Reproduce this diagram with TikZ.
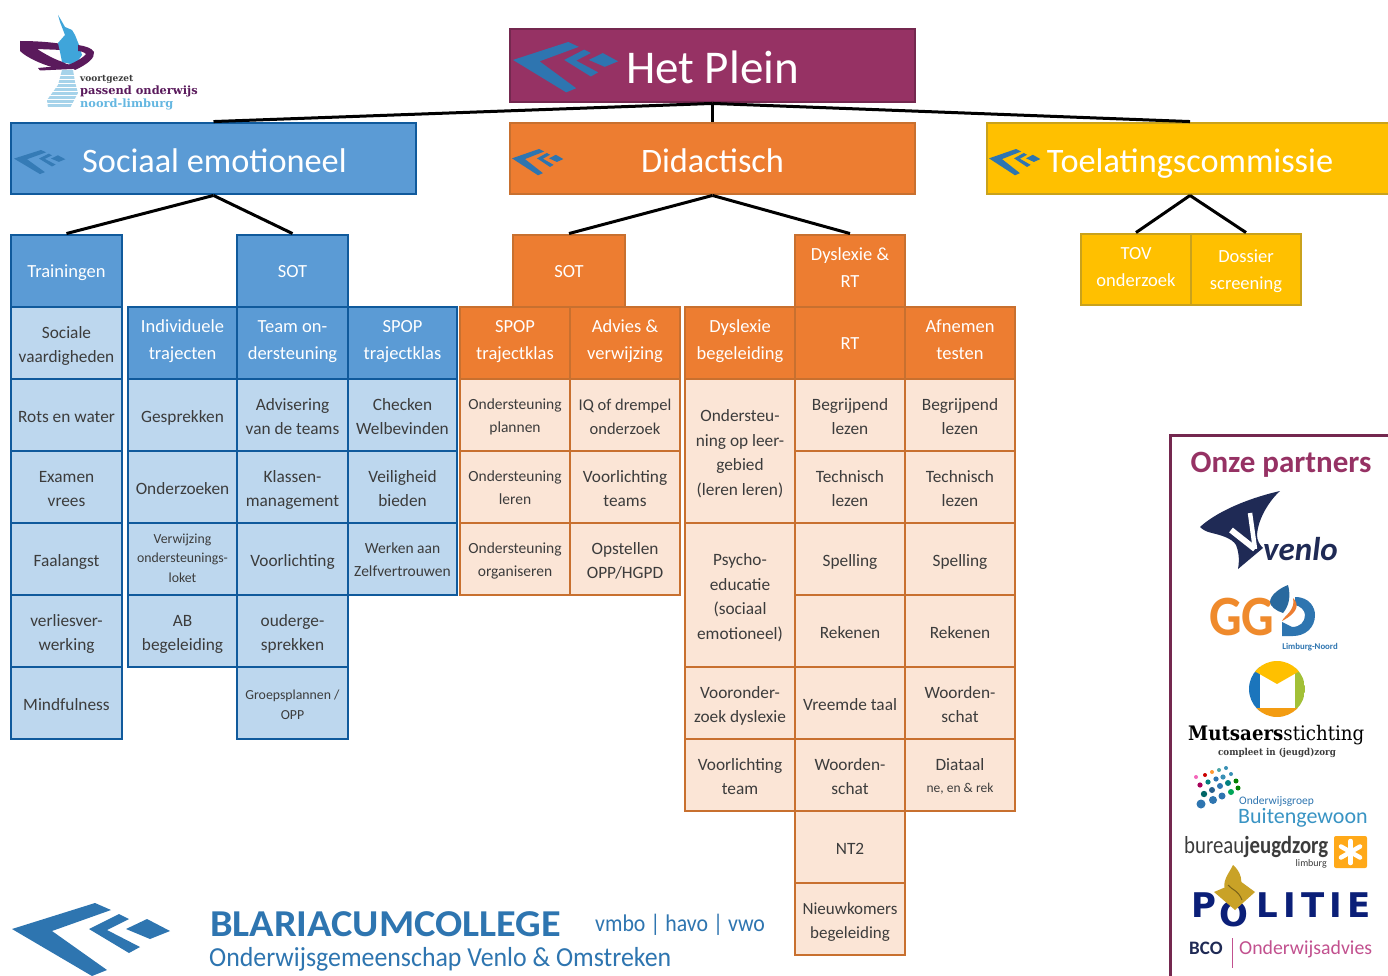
\documentclass[tikz,border=0pt]{standalone}
\usepackage{fontspec}
\setmainfont{Carlito}
\newfontfamily\slab{DejaVu Serif}
\newfontfamily\heavy{DejaVu Sans}
\newcommand\fs[2]{\fontsize{#1}{#2}\selectfont}
\newcommand\up{\rule[-14pt]{0pt}{0pt}}
\newcommand\topx{2pt}
\definecolor{bhead}{HTML}{5B9BD5}\definecolor{bline}{HTML}{105A9C}\definecolor{blight}{HTML}{BDD7EE}
\definecolor{ohead}{HTML}{ED7D31}\definecolor{oline}{HTML}{C8702F}\definecolor{olight}{HTML}{FBE5D6}
\definecolor{yhead}{HTML}{FFC000}\definecolor{yline}{HTML}{C9A21C}
\definecolor{phead}{HTML}{963264}\definecolor{pline}{HTML}{74284F}
\definecolor{txt}{HTML}{3C3C3C}\definecolor{logoblue}{HTML}{2E75B0}\definecolor{navy}{HTML}{1F2A55}
\definecolor{vpurple}{HTML}{5A1A5C}\definecolor{vblue}{HTML}{3FA5DA}\definecolor{vlight}{HTML}{A6D3EA}
\definecolor{pink}{HTML}{C2518F}\definecolor{police}{HTML}{0B1F78}\definecolor{gold}{HTML}{C9A227}
\definecolor{mgreen}{HTML}{A2C037}\definecolor{mblue}{HTML}{1B75BC}\definecolor{morange}{HTML}{F39C12}
\tikzset{
 cellbase/.style={draw,inner sep=0pt,align=center,line width=2.9pt},
 lightcell/.style={execute at begin node={\def\topx{5pt}}},
 bh/.style={cellbase,fill=bhead,draw=bline,text=white,font=\fs{18.5}{27}},
 bc/.style={cellbase,lightcell,fill=blight,draw=bline,text=txt,font=\fs{17.3}{24.5}},
 oh/.style={cellbase,fill=ohead,draw=oline,text=white,font=\fs{18.5}{27}},
 oc/.style={cellbase,lightcell,fill=olight,draw=oline,text=txt,font=\fs{17.3}{24.5}},
 yh/.style={cellbase,fill=yhead,draw=yline,text=white,font=\fs{18.5}{27}},
 small/.style={font=\fs{15.5}{23},execute at begin node={\def\topx{3pt}}},
 tiny/.style={font=\fs{13.8}{19.5}},
 flat/.style={execute at begin node={\def\topx{0pt}}},
 big/.style={font=\fs{34.3}{70},execute at begin node={\def\topx{0pt}}},
 link/.style={draw=black,line width=3pt},
 basetext/.style={anchor=base west,inner sep=0pt},
}
\newcommand\cell[7]{\pgfmathsetmacro\cwd{#5-#3}\pgfmathsetmacro\cht{#6-#4}%
 \node[#1,minimum width=\cwd pt,minimum height=\cht pt] (#2) at ({(#3+#5)/2},{(#4+#6)/2}) {\rule{0pt}{\dimexpr.7\baselineskip+\topx\relax}#7\strut};}
\newcommand\chev[5]{\begin{scope}[shift={(#1,#2)},xscale=#3,yscale=#4,fill=#5]
 \fill (0,26)--(83,0)--(99,7)--(40,28)--(95,67)--(80,73)--cycle;
 \fill (77,26)--(107,11)--(117,16)--(95,27)--(128,44)--(117,50)--cycle;
 \fill (114,26)--(135,16)--(158,28)--(138,36)--cycle;
\end{scope}}
\begin{document}
\begin{tikzpicture}[x=1pt,y=-1pt]
\useasboundingbox (0,0) rectangle (1388,976);
\clip (0,0) rectangle (1388,976);
\fill[white] (0,0) rectangle (1388,976);

% top row
\cell{cellbase,fill=phead,draw=pline,text=white,font=\fs{20}{30}}{plein}{510}{29}{915}{102}{}
\cell{bh,big}{soc}{11}{123}{416}{194}{}
\cell{oh,big}{did}{510}{123}{915}{194}{Didactisch}
\cell{yh,big}{toe}{987}{123}{1393}{194}{Toelatingscommissie}
\node[basetext,text=white,font=\fs{47}{50}] (pleintxt) at (626,84) {Het Plein};
\node[basetext,text=white,font=\fs{34.3}{40}] (soctxt) at (82,173) {Sociaal emotioneel};
\chev{513}{42}{0.665}{0.69}{logoblue}
\chev{14}{150}{0.325}{0.33}{logoblue!85!bhead}
\chev{512}{149}{0.325}{0.36}{logoblue}
\chev{989}{149}{0.325}{0.36}{logoblue}

% blue
\cell{bh}{train}{11}{235}{122}{307}{Trainingen}
\cell{bc}{b1a}{11}{307}{122}{379}{Sociale\\vaardigheden}
\cell{bc}{b1b}{11}{379}{122}{451}{Rots en water}
\cell{bc}{b1c}{11}{451}{122}{523}{Examen\\vrees}
\cell{bc}{b1d}{11}{523}{122}{595}{Faalangst}
\cell{bc}{b1e}{11}{595}{122}{667}{verliesver-\\werking}
\cell{bc}{b1f}{11}{667}{122}{739}{Mindfulness}

\cell{bh}{b2h}{128}{307}{237}{379}{Individuele\\trajecten\up}
\cell{bc}{b2a}{128}{379}{237}{451}{Gesprekken}
\cell{bc}{b2b}{128}{451}{237}{523}{Onderzoeken}
\cell{bc,tiny,flat}{b2c}{128}{523}{237}{595}{Verwijzing\\ondersteunings-\\loket}
\cell{bc}{b2d}{128}{595}{237}{667}{AB\\begeleiding}

\cell{bh}{bsot}{237}{235}{348}{307}{SOT}
\cell{bh}{b3h}{237}{307}{348}{379}{Team on-\\dersteuning\up}
\cell{bc}{b3a}{237}{379}{348}{451}{Advisering\\van de teams}
\cell{bc}{b3b}{237}{451}{348}{523}{Klassen-\\management}
\cell{bc}{b3c}{237}{523}{348}{595}{Voorlichting}
\cell{bc}{b3d}{237}{595}{348}{667}{ouderge-\\sprekken}
\cell{bc,tiny}{b3e}{237}{667}{348}{739}{Groepsplannen /\\OPP}

\cell{bh}{b4h}{348}{307}{457}{379}{SPOP\\trajectklas\up}
\cell{bc}{b4a}{348}{379}{457}{451}{Checken\\Welbevinden}
\cell{bc}{b4b}{348}{451}{457}{523}{Veiligheid\\bieden}
\cell{bc,small}{b4c}{348}{523}{457}{595}{Werken aan\\Zelfvertrouwen}

% orange
\cell{oh}{osot}{513}{235}{625}{307}{SOT}
\cell{oh}{o1h}{460}{307}{570}{379}{SPOP\\trajectklas\up}
\cell{oc,small}{o1a}{460}{379}{570}{451}{Ondersteuning\\plannen}
\cell{oc,small}{o1b}{460}{451}{570}{523}{Ondersteuning\\leren}
\cell{oc,small}{o1c}{460}{523}{570}{595}{Ondersteuning\\organiseren}
\cell{oh}{o2h}{570}{307}{680}{379}{Advies \&\\verwijzing\up}
\cell{oc,font=\fs{16.5}{24}}{o2a}{570}{379}{680}{451}{IQ of drempel\\onderzoek}
\cell{oc}{o2b}{570}{451}{680}{523}{Voorlichting\\teams}
\cell{oc}{o2c}{570}{523}{680}{595}{Opstellen\\OPP/HGPD}

\cell{oh}{o3h}{685}{307}{795}{379}{Dyslexie\\begeleiding\up}
\cell{oc}{o3a}{685}{379}{795}{523}{Ondersteu-\\ning op leer-\\gebied\\(leren leren)}
\cell{oc}{o3b}{685}{523}{795}{667}{Psycho-\\educatie\\(sociaal\\emotioneel)}
\cell{oc}{o3c}{685}{667}{795}{739}{Vooronder-\\zoek dyslexie}
\cell{oc}{o3d}{685}{739}{795}{811}{Voorlichting\\team}

\cell{oh}{dys}{795}{235}{905}{307}{Dyslexie \&\\RT\up}
\cell{oh}{o4h}{795}{307}{905}{379}{RT}
\cell{oc}{o4a}{795}{379}{905}{451}{Begrijpend\\lezen}
\cell{oc}{o4b}{795}{451}{905}{523}{Technisch\\lezen}
\cell{oc}{o4c}{795}{523}{905}{595}{Spelling}
\cell{oc}{o4d}{795}{595}{905}{667}{Rekenen}
\cell{oc}{o4e}{795}{667}{905}{739}{Vreemde taal}
\cell{oc}{o4f}{795}{739}{905}{811}{Woorden-\\schat}
\cell{oc}{o4g}{795}{811}{905}{883}{NT2}
\cell{oc,font=\fs{17}{24.5}}{o4h2}{795}{883}{905}{955}{Nieuwkomers\\begeleiding}

\cell{oh}{o5h}{905}{307}{1015}{379}{Afnemen\\testen\up}
\cell{oc}{o5a}{905}{379}{1015}{451}{Begrijpend\\lezen}
\cell{oc}{o5b}{905}{451}{1015}{523}{Technisch\\lezen}
\cell{oc}{o5c}{905}{523}{1015}{595}{Spelling}
\cell{oc}{o5d}{905}{595}{1015}{667}{Rekenen}
\cell{oc}{o5e}{905}{667}{1015}{739}{Woorden-\\schat}
\cell{oc,font=\fs{17.3}{22}}{o5f}{905}{739}{1015}{811}{Diataal\\{\fs{13.5}{22}ne, en \& rek}}

% yellow
\cell{yh}{tov}{1081}{234}{1191}{305}{TOV\\onderzoek\up}
\cell{yh}{dos}{1191}{234}{1301}{305}{Dossier\\screening}

% connectors
\draw[link] (plein.south)--(soc.north);
\draw[link] (plein.south)--(did.north);
\draw[link] (plein.south)--(toe.north);
\draw[link] (soc.south)--(train.north);
\draw[link] (soc.south)--(bsot.north);
\draw[link] (did.south)--(osot.north);
\draw[link] (did.south)--(dys.north);
\draw[link] (toe.south)--(tov.north);
\draw[link] (toe.south)--(dos.north);

% top left logo
\fill[vlight] (62,70)--(73,70)--(75,82)--(78,93)--(70,108)--(48,108)--(47,100)--(58,85)--cycle;
\foreach \yy in {75,79,...,107}{\draw[white,line width=.6pt] (44,\yy)--(80,\yy);}
\fill[vpurple] (20,41) .. controls (35,41) and (50,42) .. (62,44) -- (62,50) -- (37,49) .. controls (45,54) and (55,60) .. (66,63) -- (60,69) .. controls (45,66) and (27,58) .. (20,51)--cycle;
\fill[vblue] (58,15) -- (61,20) -- (65,27) -- (72,30) -- (75,35) -- (79,45) -- (82,55) -- (75,65) -- (62,62) -- (60,52) -- (58,43) -- (65,35) -- (60,22) --cycle;
\fill[vpurple] (78,45) .. controls (85,46) and (92,48) .. (94,52) .. controls (95,58) and (88,64) .. (75,70) -- (68,65) .. controls (76,62) and (84,57) .. (86,54) .. controls (84,52) and (80,51) .. (78,51)--cycle;
\fill[vpurple] (58,62) -- (80,67) -- (72,69) -- (40,70.5) -- (38,68) -- (60,66) --cycle;
\node[basetext,text=txt,font=\slab\bfseries\fs{9}{10}] (lg1) at (80,82) {voortgezet};
\node[basetext,text=vpurple,font=\slab\bfseries\fs{11.4}{12}] (lg2) at (80,95) {passend onderwijs};
\node[basetext,text=vblue!80,font=\slab\bfseries\fs{11.4}{12}] (lg3) at (80,108) {noord-limburg};

% bottom logo
\chev{12}{903}{1}{1}{logoblue}
\node[basetext,text=logoblue,font=\bfseries\fs{38}{40},xscale=1.06] (col) at (210,936) {BLARIACUMCOLLEGE};
\node[basetext,text=logoblue,font=\fs{24}{28},xscale=.91] (lev) at (595,931) {vmbo | havo | vwo};
\node[basetext,text=logoblue,font=\fs{27.5}{32},xscale=.94] (gem) at (209,966) {Onderwijsgemeenschap Venlo \& Omstreken};

% partner panel
\draw[pline,line width=3pt] (1170,980)--(1170,435)--(1392,435);
\node[anchor=base,text=phead,font=\bfseries\fs{31}{34},inner sep=0pt] (onze) at (1281,472) {Onze partners};
% venlo
\fill[navy] (1200,527) .. controls (1215,513) and (1245,499) .. (1280,491) .. controls (1270,500) and (1258,518) .. (1257,535)
 .. controls (1257,541) and (1260,545) .. (1263,548) -- (1238,569) .. controls (1240,558) and (1238,550) .. (1236,545) .. controls (1232,538) and (1220,535) .. (1212,533) .. controls (1207,532) and (1203,530) .. (1200,527)--cycle;
\draw[white,line width=6pt] (1231,530)--(1255,549);
\draw[white,line width=4.5pt] (1250,513)--(1255,549);
\node[basetext,text=navy,font=\bfseries\itshape\fs{33}{36}] (venlo) at (1263,560) {venlo};
% ggd
\node[basetext,text=ohead!90!yellow,font=\bfseries\fs{57}{60},xscale=.9] (ggd) at (1209,635) {GG};
\fill[logoblue] (1295,597) .. controls (1310,597) and (1315,608) .. (1315,615) .. controls (1315,628) and (1305,636) .. (1293,636) -- (1282,636) -- (1282,622) -- (1292,627) .. controls (1300,627) and (1305,622) .. (1305,615) .. controls (1305,610) and (1300,606) .. (1295,605)--cycle;
\fill[logoblue!90!black] (1288,585) .. controls (1291,596) and (1289,606) .. (1283,613) .. controls (1276,611) and (1270,606) .. (1270,602) .. controls (1270,595) and (1280,588) .. (1288,585)--cycle;
\fill[ohead] (1293,598) .. controls (1299,604) and (1299,612) .. (1282,621) .. controls (1284,616) and (1296,610) .. (1293,598)--cycle;
\node[inner sep=0pt,text=logoblue,font=\bfseries\fs{8.8}{9}] (ggdl) at (1310,647) {Limburg-Noord};
% mutsaers
\begin{scope}
\clip (1277,689) circle (28);
\fill[white] (1249,661) rectangle (1305,717);
\fill[mblue] (1249,661) rectangle (1260,717);
\fill[mgreen] (1295,661) rectangle (1305,717);
\fill[morange] (1249,708) rectangle (1305,717);
\fill[yhead] (1249,661) rectangle (1305,672) (1256,672)--(1298,672)--(1277,684)--cycle;
\end{scope}
\node[basetext,text=black,font=\slab\fs{20}{24},xscale=.91] (mut) at (1188,740) {\textbf{Mutsaers}stichting};
\node[inner sep=0pt,text=txt,font=\slab\bfseries\fs{9.5}{11},xscale=.92] (mutb) at (1277,753) {compleet in (jeugd)zorg};
% buitengewoon
\foreach \px/\py/\pr/\pc in {1196/777/2/magenta!60,1205/775/2/red!80!black,1212/772/2/orange!80,1219/770/2/teal!70,1226/768/2/cyan!70!black,
 1200/785/2.6/violet!70!red,1208/782/2.6/teal,1216/779/2.6/logoblue,1223/777/2.6/cyan!70!black,1231/774/2/cyan!70!black,
 1204/794/3.2/teal!80!black,1212/790/3/logoblue!80!black,1220/786/3/logoblue,1228/783/3/teal,1236/781/2.5/green!50!black,
 1201/804/4.5/logoblue,1213/800/4/logoblue,1222/796/3.5/logoblue,1231/792/3/teal!70!green,1238/788/2.5/green!50!black}
 {\fill[\pc] (\px,\py) circle (\pr);}
\node[basetext,text=logoblue,font=\fs{11.5}{13}] (buia) at (1239,804) {Onderwijsgroep};
\node[basetext,text=vblue!90!black,font=\fs{22}{25}] (buib) at (1238,823) {Buitengewoon};
% bureau jeugdzorg
\node[basetext,text=txt,font=\fs{24.5}{26},xscale=.85] (bur) at (1184,853) {bureau\textbf{jeugdzorg}};
\node[anchor=base east,inner sep=0pt,text=txt,font=\fs{10}{11}] (burl) at (1327,866) {limburg};
\fill[orange!75!yellow!90!white,rounded corners=2pt] (1334,836) rectangle (1367,868);
\foreach \a in {90,150,...,390}{\draw[white,line width=4.5pt,line cap=round] (1350.5,852)--++(\a:11);}
% politie
\node[basetext,text=police,font=\heavy\bfseries\fs{34}{40}\addfontfeature{LetterSpace=16}] (pol) at (1191,917) {P\kern3pt\raisebox{-9pt}{O}\kern8pt LITIE};
\fill[gold] (1214,892) -- (1240,881) -- (1255,892) -- (1235,910) --cycle;
\fill[gold] (1233,865) .. controls (1241,872) and (1243,880) .. (1240,892) -- (1226,892) .. controls (1221,882) and (1228,875) .. (1233,865)--cycle;
\draw[gold!60!black,line width=1pt] (1228,885) .. controls (1232,890) and (1238,890) .. (1242,900);
% bco
\node[basetext,text=navy,font=\bfseries\fs{19}{21}] (bco) at (1189,954) {BCO};
\coordinate (bcoa) at (1232,938);\coordinate (bcob) at (1232,968);
\draw[pink,line width=1pt] (bcoa)--(bcob);
\node[basetext,text=pink,font=\fs{19.8}{24}] (ond) at (1239,954) {Onderwijsadvies};
\end{tikzpicture}
\end{document}
